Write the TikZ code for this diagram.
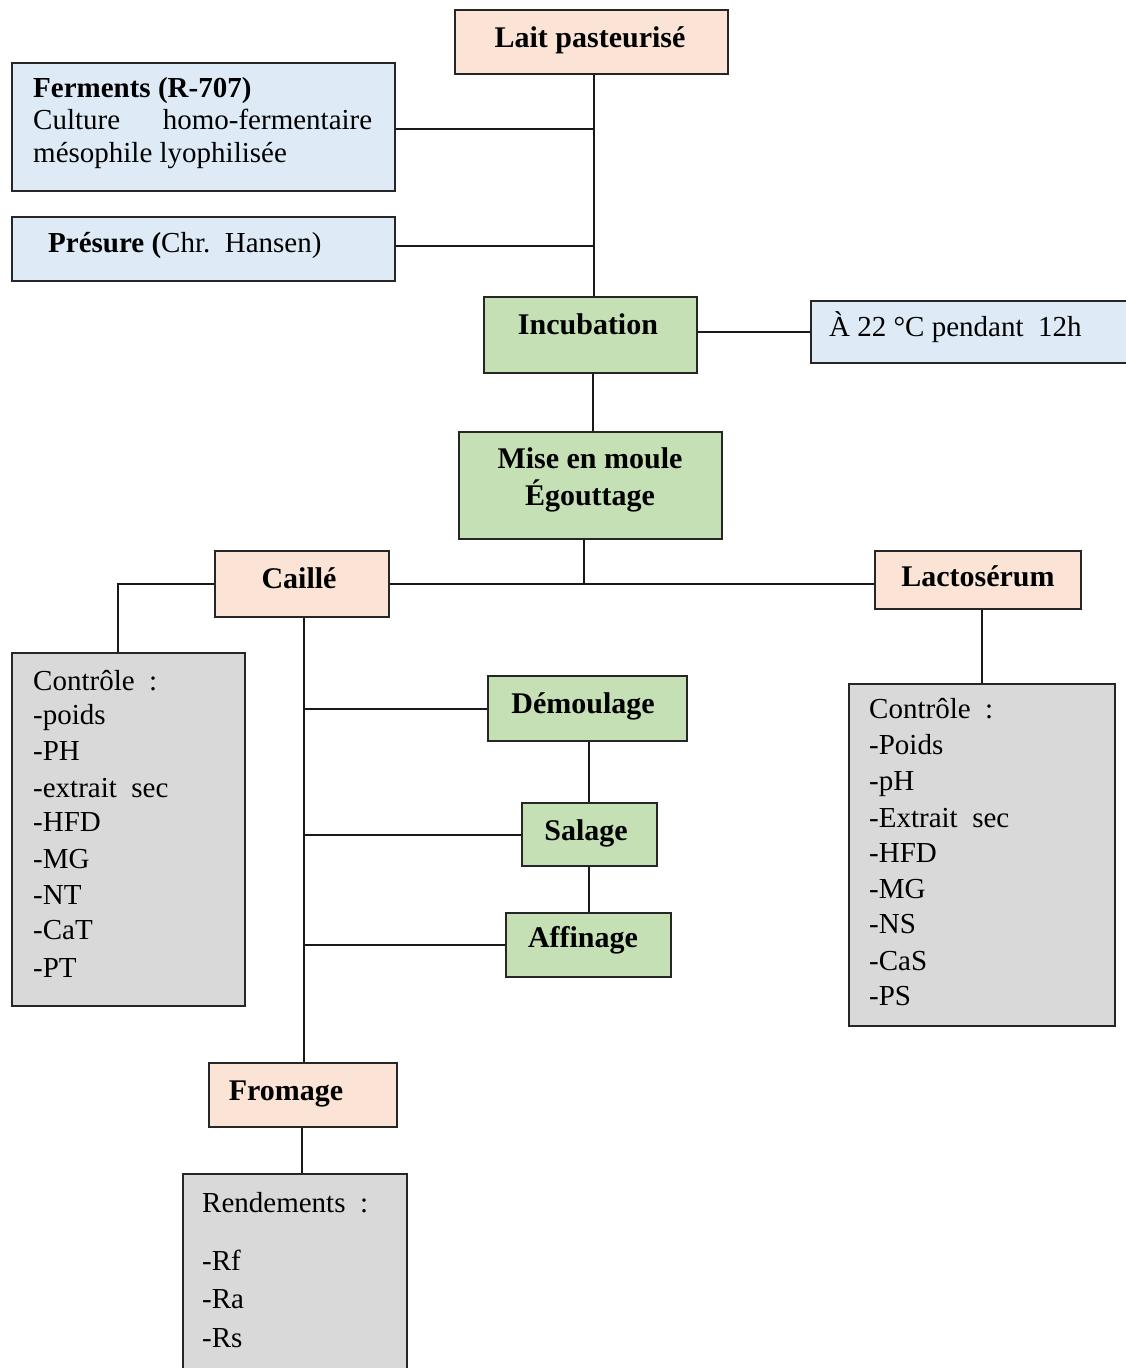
\documentclass[tikz,border=0pt]{standalone}
\usepackage{fontspec}
\setmainfont{Liberation Serif}
\definecolor{peachc}{HTML}{FBE4D5}
\definecolor{bluec}{HTML}{DEEBF7}
\definecolor{greenc}{HTML}{C5E0B4}
\definecolor{grayc}{HTML}{D9D9D9}
\begin{document}
\begin{tikzpicture}[x=1pt,y=-1pt,
  box/.style={draw=black!85, line width=1.8pt, rectangle, inner sep=0pt, anchor=north west},
  txt/.style={inner sep=0pt, anchor=base, font=\fontsize{30}{36}\selectfont\bfseries},
  rtxt/.style={inner sep=0pt, anchor=base west, font=\fontsize{29}{36}\selectfont},
  conn/.style={draw=black!90, line width=2pt}]
\useasboundingbox (0,0) rectangle (1126,1368);
% boxes
\node[box, fill=peachc, minimum width=273pt, minimum height=64pt] (lait) at (454,9) {};
\node[box, fill=bluec, minimum width=383pt, minimum height=128pt] (ferm) at (11,62) {};
\node[box, fill=bluec, minimum width=383pt, minimum height=64pt] (pres) at (11,216) {};
\node[box, fill=greenc, minimum width=213pt, minimum height=76pt] (incub) at (483,296) {};
\node[box, fill=bluec, minimum width=340pt, minimum height=62pt] (temp) at (810,300) {};
\node[box, fill=greenc, minimum width=263pt, minimum height=107pt] (mise) at (458,431) {};
\node[box, fill=peachc, minimum width=174pt, minimum height=66pt] (caille) at (214,550) {};
\node[box, fill=peachc, minimum width=206pt, minimum height=58pt] (lacto) at (874,550) {};
\node[box, fill=grayc, minimum width=233pt, minimum height=353pt] (ctrlA) at (11,652) {};
\node[box, fill=grayc, minimum width=266pt, minimum height=342pt] (ctrlB) at (848,683) {};
\node[box, fill=greenc, minimum width=199pt, minimum height=65pt] (demoul) at (487,675) {};
\node[box, fill=greenc, minimum width=135pt, minimum height=63pt] (sal) at (521,802) {};
\node[box, fill=greenc, minimum width=165pt, minimum height=64pt] (aff) at (505,912) {};
\node[box, fill=peachc, minimum width=188pt, minimum height=64pt] (from) at (208,1062) {};
\node[box, fill=grayc, minimum width=224pt, minimum height=215pt] (rend) at (182,1173) {};
% texts
\node[txt] (lait-t) at (590,47) {Lait pasteurisé};
\node[rtxt, font=\fontsize{29}{36}\selectfont\bfseries] (ferm-t1) at (33,97) {Ferments (R-707)};
\node[rtxt] (ferm-t2) at (33,129) {\hbox to 339pt{Culture\hfill homo-fermentaire}};
\node[rtxt] (ferm-t3) at (33,162) {mésophile lyophilisée};
\node[rtxt] (pres-t) at (48,252) {\textbf{Présure (}Chr.~~Hansen)};
\node[txt] (incub-t) at (588,334) {Incubation};
\node[rtxt] (temp-t) at (829,336) {À 22 °C pendant~~12h};
\node[txt] (mise-t1) at (590,468) {Mise en moule};
\node[txt] (mise-t2) at (590,505) {Égouttage};
\node[txt] (caille-t) at (299,588) {Caillé};
\node[txt] (lacto-t) at (978,586) {Lactosérum};
\node[txt] (demoul-t) at (583,713) {Démoulage};
\node[txt] (sal-t) at (586,840) {Salage};
\node[txt] (aff-t) at (583,947) {Affinage};
\node[txt] (from-t) at (286,1100) {Fromage};
\foreach \t/\y [count=\i] in {Contrôle~~:/690,-poids/724,-PH/760,-extrait~~sec/797,-HFD/831,-MG/868,-NT/904,-CaT/939,-PT/977}
  \node[rtxt] (ctrlA-t\i) at (33,\y) {\t};
\foreach \t/\y [count=\i] in {Contrôle~~:/718,-Poids/754,-pH/790,-Extrait~~sec/827,-HFD/862,-MG/898,-NS/933,-CaS/970,-PS/1005}
  \node[rtxt] (ctrlB-t\i) at (869,\y) {\t};
\node[rtxt] (rend-t1) at (202,1212) {Rendements~~:};
\node[rtxt] (rend-t2) at (202,1270) {-Rf};
\node[rtxt] (rend-t3) at (202,1308) {-Ra};
\node[rtxt] (rend-t4) at (202,1347) {-Rs};
% connectors
\coordinate (spine) at ([xshift=2.5pt]lait.south);
\draw[conn] (spine) -- (spine |- incub.north);
\draw[conn] ([yshift=-2pt]ferm.east) -- ([yshift=-2pt]ferm.east -| spine);
\draw[conn] ([yshift=3pt]pres.east) -- ([yshift=3pt]pres.east -| spine);
\draw[conn] ([yshift=3pt]incub.east) -- ([yshift=3pt]incub.east -| temp.west);
\draw[conn] ([xshift=3pt]incub.south) -- ([xshift=3pt]incub.south |- mise.north);
\draw[conn] ([xshift=-6pt]mise.south) -- ([xshift=-6pt]mise.south |- caille.east);
\draw[conn] (caille.east) -- (caille.east -| lacto.west);
\draw[conn] (caille.west) -| ([xshift=-10pt]ctrlA.north);
\draw[conn] ([xshift=4pt]lacto.south) -- ([xshift=4pt]lacto.south |- ctrlB.north);
\coordinate (cspine) at ([xshift=2pt]caille.south);
\draw[conn] (cspine) -- (cspine |- from.north);
\draw[conn] ([yshift=-1pt]demoul.west) -- ([yshift=-1pt]demoul.west -| cspine);
\draw[conn] ([yshift=-1pt]sal.west) -- ([yshift=-1pt]sal.west -| cspine);
\draw[conn] (aff.west) -- (aff.west -| cspine);
\draw[conn] ([xshift=1.5pt]demoul.south) -- ([xshift=1.5pt]demoul.south |- sal.north);
\draw[conn] (sal.south) -- (sal.south |- aff.north);
\draw[conn] ([xshift=-1pt]from.south) -- ([xshift=-1pt]from.south |- rend.north);
\end{tikzpicture}
\end{document}
